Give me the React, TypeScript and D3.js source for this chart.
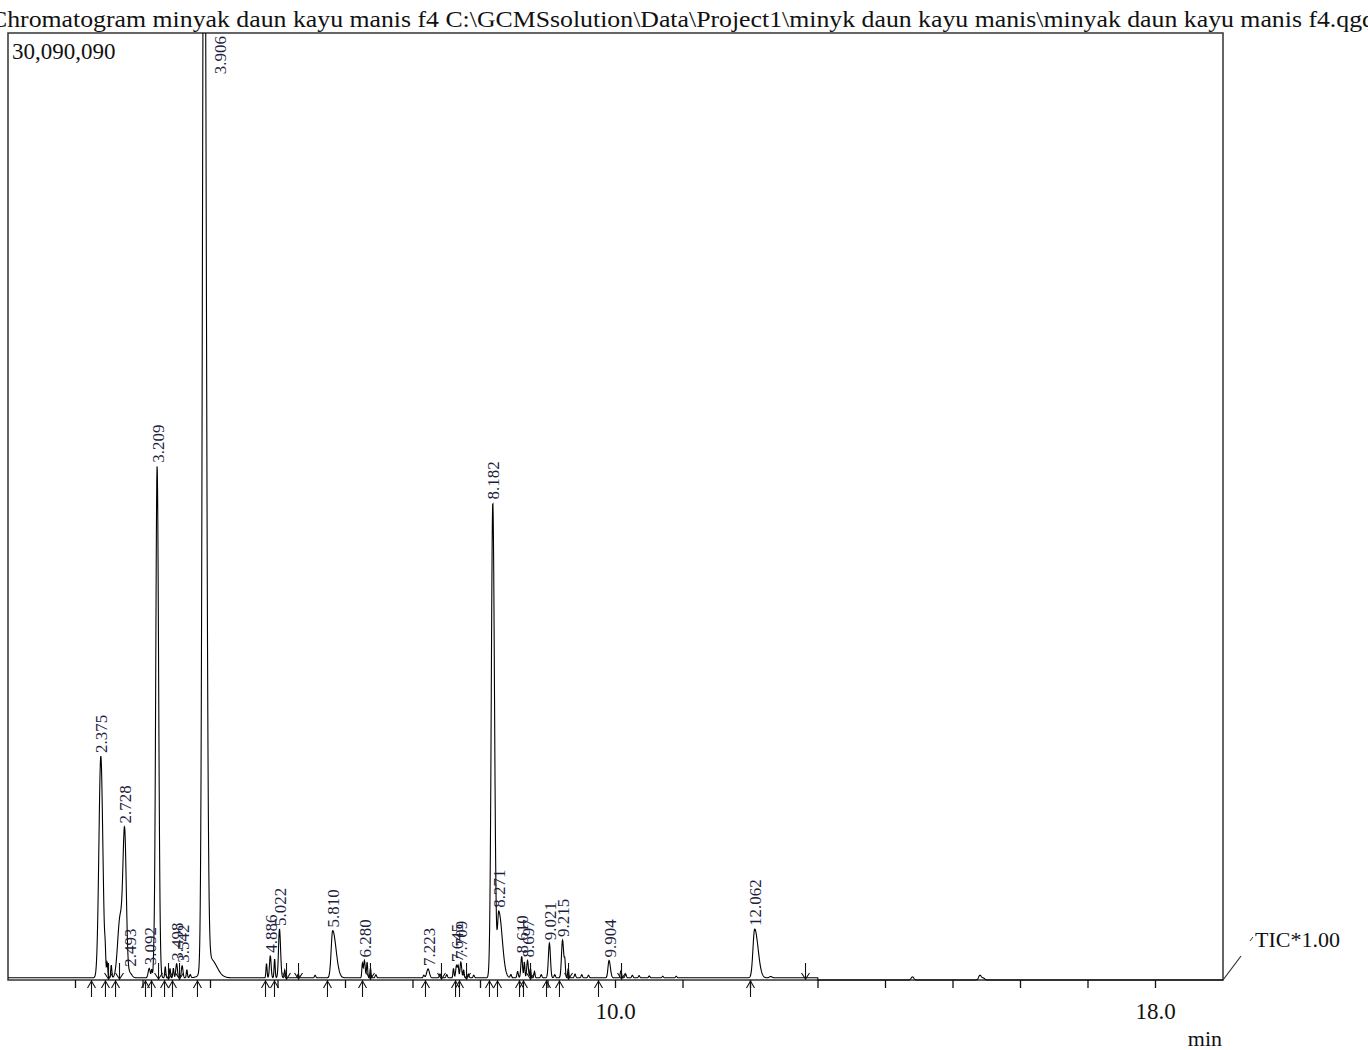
import * as d3 from "d3";

// labelled peaks (retention time in min, apex height in counts)
const peakLabels = ["2.375", "2.728", "2.493", "3.092", "3.209", "3.498", "3.542", "3.906", "4.886", "5.022", "5.810", "6.280", "7.223", "7.645", "7.709", "8.182", "8.271", "8.610", "8.697", "9.021", "9.215", "9.904", "12.062"];
const peakTimes = [2.375, 2.728, 2.805, 3.092, 3.209, 3.498, 3.58, 3.906, 4.886, 5.022, 5.81, 6.28, 7.223, 7.645, 7.709, 8.182, 8.271, 8.61, 8.697, 9.021, 9.215, 9.904, 12.062];
const peakHeights = [7050000, 4500000, 150000, 300000, 16270000, 450000, 380000, 40000000, 700000, 1550000, 1500000, 550000, 280000, 400000, 500000, 15100000, 2100000, 680000, 550000, 1100000, 1200000, 550000, 1550000];
const peakSigmaLeft = [0.028, 0.025, 0.02, 0.015, 0.02, 0.012, 0.012, 0.024, 0.012, 0.014, 0.022, 0.012, 0.02, 0.012, 0.012, 0.022, 0.02, 0.012, 0.012, 0.015, 0.015, 0.015, 0.025];
const peakSigmaRight = [0.03, 0.025, 0.03, 0.015, 0.022, 0.012, 0.012, 0.03, 0.012, 0.016, 0.05, 0.012, 0.02, 0.012, 0.012, 0.025, 0.05, 0.012, 0.012, 0.015, 0.018, 0.02, 0.05];

// unlabelled shoulders and small bumps
const minorTimes = [2.44, 2.47, 2.53, 2.66, 3.13, 3.16, 3.33, 3.4, 3.45, 3.65, 3.7, 4.0, 4.83, 4.95, 5.1, 5.3, 5.55, 6.25, 6.32, 6.37, 6.45, 7.16, 7.4, 7.5, 7.6, 7.67, 7.75, 7.82, 7.9, 8.45, 8.55, 8.65, 8.74, 8.8, 8.9, 9.1, 9.25, 9.3, 9.4, 9.5, 9.6, 10.08, 10.15, 10.25, 10.35, 10.5, 10.7, 10.9, 12.3, 14.4, 15.4, 15.45];
const minorHeights = [500000, 450000, 400000, 1900000, 250000, 300000, 350000, 300000, 300000, 250000, 100000, 600000, 450000, 600000, 250000, 120000, 80000, 450000, 500000, 300000, 100000, 80000, 120000, 100000, 300000, 350000, 250000, 120000, 80000, 100000, 200000, 500000, 300000, 200000, 100000, 100000, 450000, 300000, 120000, 100000, 80000, 220000, 120000, 80000, 70000, 60000, 50000, 50000, 40000, 100000, 150000, 60000];
const minorSigma = [0.008, 0.008, 0.008, 0.035, 0.008, 0.008, 0.008, 0.008, 0.008, 0.008, 0.01, 0.09, 0.008, 0.008, 0.008, 0.01, 0.01, 0.008, 0.008, 0.008, 0.01, 0.01, 0.01, 0.01, 0.008, 0.008, 0.008, 0.01, 0.01, 0.01, 0.01, 0.008, 0.008, 0.008, 0.01, 0.01, 0.008, 0.008, 0.01, 0.01, 0.01, 0.01, 0.01, 0.01, 0.01, 0.01, 0.01, 0.01, 0.02, 0.02, 0.02, 0.02];

// integration markers
const startMarks = [2.237, 2.444, 2.593, 3.037, 3.126, 3.319, 3.437, 3.807, 4.815, 4.948, 5.733, 6.252, 7.185, 7.63, 7.689, 8.133, 8.252, 8.578, 8.637, 8.978, 9.17, 9.748, 12.0];
const endMarks = [2.489, 2.652, 3.23, 3.378, 3.541, 5.126, 5.304, 6.37, 7.422, 7.793, 8.741, 9.304, 10.089, 12.815];

const minuteTicks = d3.range(2, 19);
const labelledTicks = [10, 18];

const title = "Chromatogram minyak daun kayu manis f4 C:\\GCMSsolution\\Data\\Project1\\minyk daun kayu manis\\minyak daun kayu manis f4.qgd";
const yMaxValue = 30090090;
const baselineOffset = 70000;

const left = 8;
const right = 1223;
const top = 33;
const bottom = 980;

const x = d3.scaleLinear().domain([1, 19]).range([left, right]);
const y = d3.scaleLinear().domain([0, yMaxValue]).range([bottom, top]);

function signal(t: number) {
  let v = t < 13 ? baselineOffset : 0;
  peakTimes.forEach((rt, i) => {
    const s = t < rt ? peakSigmaLeft[i] : peakSigmaRight[i];
    const d = (t - rt) / s;
    if (Math.abs(d) < 8) v += peakHeights[i] * Math.exp(-0.5 * d * d);
  });
  minorTimes.forEach((rt, i) => {
    const d = (t - rt) / minorSigma[i];
    if (Math.abs(d) < 8) v += minorHeights[i] * Math.exp(-0.5 * d * d);
  });
  return v;
}

const grid = d3.range(1, 19.0001, 0.004);
const trace = grid.map((t) => [t, signal(t)] as [number, number]);
const line = d3.line<[number, number]>().x((d) => x(d[0])).y((d) => y(d[1]));

function apex(rt: number) {
  let best = 0;
  for (let t = rt - 0.01; t <= rt + 0.01; t += 0.002) best = Math.max(best, signal(t));
  return best;
}

export default function App() {
  const serif = "'Liberation Serif', 'Times New Roman', serif";
  return (
    <svg width={1368} height={1050} style={{ position: "absolute", left: 0, top: 0, background: "#fff" }} fontFamily={serif}>
      <defs>
        <clipPath id="plot">
          <rect x={left} y={top} width={right - left} height={bottom - top + 2} />
        </clipPath>
      </defs>
      <text x={-10} y={27} fontSize={24} textLength={1385} lengthAdjust="spacingAndGlyphs" fill="#111">{title}</text>
      <rect x={left} y={top} width={right - left} height={bottom - top} fill="none" stroke="#333" strokeWidth={1.5} />
      <text x={12} y={59} fontSize={23} fill="#111">30,090,090</text>

      <path d={line(trace) ?? ""} fill="none" stroke="#000" strokeWidth={1.1} clipPath="url(#plot)" />

      {minuteTicks.map((t) => (
        <line key={`t${t}`} x1={x(t)} x2={x(t)} y1={bottom} y2={bottom + 8} stroke="#111" strokeWidth={1.3} />
      ))}
      {labelledTicks.map((t) => (
        <text key={`l${t}`} x={x(t)} y={1019} fontSize={23} textAnchor="middle" fill="#111">{t.toFixed(1)}</text>
      ))}
      <text x={1222} y={1046} fontSize={22} textAnchor="end" fill="#111">min</text>

      {startMarks.map((t, i) => (
        <g key={`s${i}`} stroke="#111" strokeWidth={1.1} fill="none">
          <line x1={x(t)} x2={x(t)} y1={bottom} y2={997} />
          <path d={`M${x(t) - 4},${bottom + 8}L${x(t)},${bottom + 1}L${x(t) + 4},${bottom + 8}`} />
        </g>
      ))}
      {endMarks.map((t, i) => (
        <g key={`e${i}`} stroke="#111" strokeWidth={1.1} fill="none">
          <line x1={x(t)} x2={x(t)} y1={963} y2={bottom} />
          <path d={`M${x(t) - 4},${bottom - 7}L${x(t)},${bottom - 1}L${x(t) + 4},${bottom - 7}`} />
        </g>
      ))}

      {peakLabels.map((label, i) => {
        const px = x(peakTimes[i]);
        const top0 = y(apex(peakTimes[i]));
        const clipped = top0 < top;
        const lx = clipped ? px + 16 : px + 1;
        const ly = clipped ? top + 3 : top0 - 3;
        return (
          <text
            key={label}
            transform={`translate(${lx},${ly}) rotate(-90)`}
            fontSize={17}
            textAnchor={clipped ? "end" : "start"}
            dominantBaseline="central"
            fill="#1f1f3f"
          >
            {label}
          </text>
        );
      })}

      <line x1={right} y1={bottom} x2={1241} y2={956} stroke="#333" strokeWidth={1.2} />
      <line x1={1250} y1={941} x2={1253} y2={937} stroke="#333" strokeWidth={1} />
      <text x={1255} y={947} fontSize={22} fill="#111">TIC*1.00</text>
    </svg>
  );
}
